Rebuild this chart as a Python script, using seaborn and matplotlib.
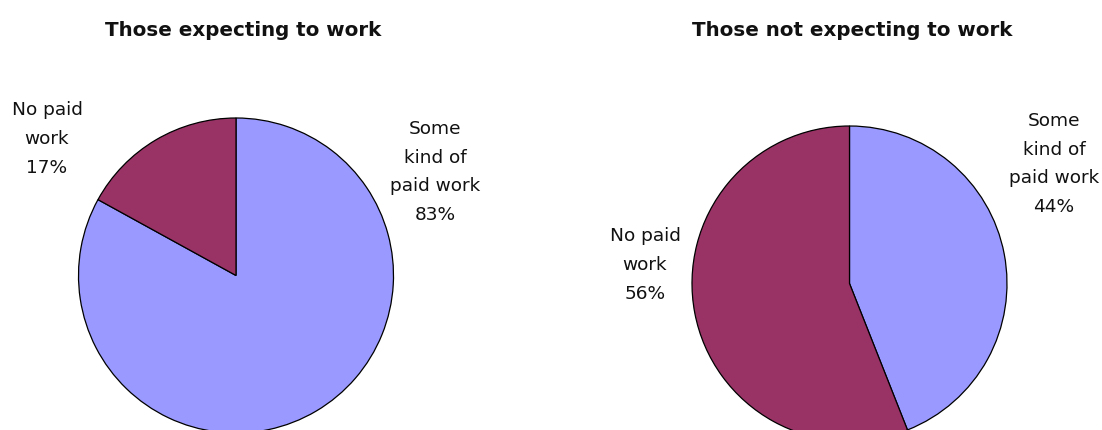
import matplotlib
matplotlib.use("Agg")
import matplotlib.pyplot as plt
import seaborn as sns

# Survey split by work expectation
titles = ["Those expecting to work", "Those not expecting to work"]
categories = ["Some kind of paid work", "No paid work"]
expecting_share = [83, 17]
not_expecting_share = [44, 56]
category_colors = ["#9999FF", "#993366"]

sns.set_theme(style="white")
plt.rcParams["font.family"] = ["DejaVu Sans"]

W, H = 1102, 430
fig = plt.figure(figsize=(W / 100, H / 100), dpi=100)
ax = fig.add_axes([0, 0, 1, 1])

palette = sns.color_palette(category_colors)
wedge_style = dict(edgecolor="black", linewidth=0.9)
radius = 157.5

ax.pie(expecting_share, colors=palette, startangle=90, counterclock=False,
       center=(236, H - 275.5), radius=radius, wedgeprops=wedge_style, frame=True)
ax.pie(not_expecting_share, colors=palette, startangle=90, counterclock=False,
       center=(849.5, H - 283.5), radius=radius, wedgeprops=wedge_style, frame=True)

ax.set_xlim(0, W)
ax.set_ylim(0, H)
ax.set_aspect("equal")
ax.axis("off")

label_kw = dict(ha="center", va="center", fontsize=13.3, linespacing=1.78, color="#111111")
wrapped = {"Some kind of paid work": "Some\nkind of\npaid work", "No paid work": "No paid\nwork"}

def label(x, y, cat, val):
    ax.text(x, H - y, f"{wrapped[cat]}\n{val}%", **label_kw)

label(435, 172, categories[0], expecting_share[0])
label(47, 139, categories[1], expecting_share[1])
label(1054, 164, categories[0], not_expecting_share[0])
label(645, 265, categories[1], not_expecting_share[1])

title_kw = dict(ha="center", va="center", fontsize=14.3, fontweight="bold", color="#111111")
ax.text(243.5, H - 30, titles[0], **title_kw)
ax.text(852, H - 30, titles[1], **title_kw)

fig.savefig("out.png", dpi=100, facecolor="white")
